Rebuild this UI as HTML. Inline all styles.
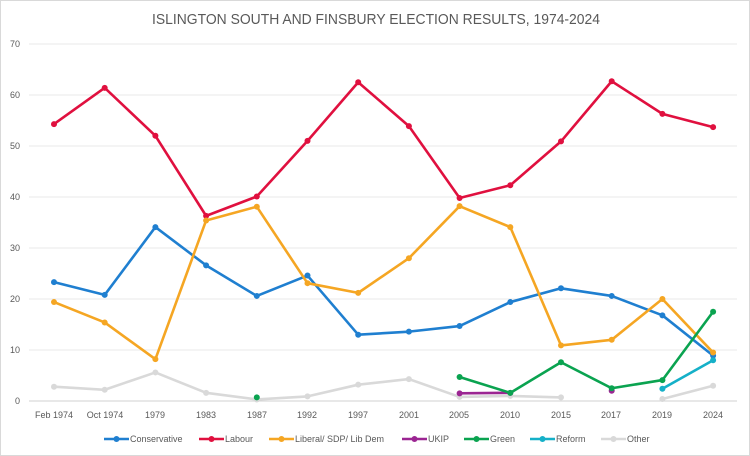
<!DOCTYPE html>
<html><head><meta charset="utf-8"><style>
body{margin:0;background:#fff;}
svg{display:block;font-family:"Liberation Sans",sans-serif;}
</style></head><body>
<svg id="c" width="750" height="456" viewBox="0 0 750 456">
<rect x="0.5" y="0.5" width="749" height="455" fill="#fff" stroke="#d9d9d9"/>
<text x="376" y="24" text-anchor="middle" font-size="14.5" fill="#595959" textLength="448" lengthAdjust="spacingAndGlyphs">ISLINGTON SOUTH AND FINSBURY ELECTION RESULTS, 1974-2024</text>
<g font-size="9" fill="#595959" text-anchor="end">
<text x="20" y="47">70</text><text x="20" y="98">60</text><text x="20" y="149">50</text><text x="20" y="200">40</text><text x="20" y="251">30</text><text x="20" y="302">20</text><text x="20" y="353">10</text><text x="20" y="404">0</text>
</g>
<g id="grid" stroke="#e3e3e3" stroke-width="1"></g>
<g font-size="9" fill="#595959" text-anchor="middle">
<text x="54" y="418">Feb 1974</text><text x="105" y="418">Oct 1974</text><text x="155" y="418">1979</text><text x="206" y="418">1983</text><text x="257" y="418">1987</text><text x="307" y="418">1992</text><text x="358" y="418">1997</text><text x="409" y="418">2001</text><text x="459" y="418">2005</text><text x="510" y="418">2010</text><text x="561" y="418">2015</text><text x="611" y="418">2017</text><text x="662" y="418">2019</text><text x="713" y="418">2024</text>
</g>
<g id="series"></g>
<g font-size="9" fill="#595959" id="leg">
<text x="130" y="442">Conservative</text>
<text x="225" y="442">Labour</text>
<text x="295" y="442">Liberal/ SDP/ Lib Dem</text>
<text x="428" y="442">UKIP</text>
<text x="490" y="442">Green</text>
<text x="556" y="442">Reform</text>
<text x="627" y="442">Other</text>
</g>
</svg>
<script>
var NS="http://www.w3.org/2000/svg",g=document.getElementById('grid'),s=document.getElementById('series');
function el(n,a,p){var e=document.createElementNS(NS,n);for(var k in a)e.setAttribute(k,a[k]);p.appendChild(e);return e;}
for(var i=0;i<=7;i++){var y=401-i*51;el('line',{x1:29,x2:737,y1:y,y2:y,stroke:i==0?'#d0d0d0':'#e8e8e8'},g);}
function X(i){return 54+i*50.7;}function Y(v){return 401-v*5.1;}
var N=null;
var D=[
['#d9d9d9',[2.8,2.2,5.6,1.6,0.3,0.9,3.2,4.3,0.8,1.0,0.7,N,0.4,3.0]],
['#1f7fd0',[23.3,20.8,34.1,26.6,20.6,24.6,13.0,13.6,14.7,19.4,22.1,20.6,16.8,8.9]],
['#e0103f',[54.3,61.4,52.0,36.3,40.1,51.0,62.5,53.9,39.8,42.3,50.9,62.7,56.3,53.7]],
['#f5a623',[19.4,15.4,8.2,35.4,38.1,23.1,21.2,28.0,38.2,34.1,10.9,12.0,20.0,9.5]],
['#9b2592',[N,N,N,N,N,N,N,N,1.5,1.6,N,2.0,N,N]],
['#0aa350',[N,N,N,N,0.7,N,N,N,4.7,1.6,7.6,2.5,4.1,17.5]],
['#15b0c8',[N,N,N,N,N,N,N,N,N,N,N,N,2.4,8.0]]
];
D.forEach(function(d){var seg=[];function flush(){if(seg.length>1)el('polyline',{points:seg.join(' '),fill:'none',stroke:d[0],'stroke-width':2.6,'stroke-linejoin':'round'},s);seg=[];}
d[1].forEach(function(v,i){if(v===N){flush();return;}seg.push(X(i)+','+Y(v));});flush();
d[1].forEach(function(v,i){if(v!==N)el('circle',{cx:X(i),cy:Y(v),r:3,fill:d[0]},s);});});
var L=[['#1f7fd0',104],['#e0103f',199],['#f5a623',269],['#9b2592',402],['#0aa350',464],['#15b0c8',530],['#d9d9d9',601]],lg=document.getElementById('leg');
L.forEach(function(l){el('line',{x1:l[1],x2:l[1]+25,y1:439,y2:439,stroke:l[0],'stroke-width':2.6},lg);el('circle',{cx:l[1]+12.5,cy:439,r:3,fill:l[0]},lg);});
</script>
</body></html>
